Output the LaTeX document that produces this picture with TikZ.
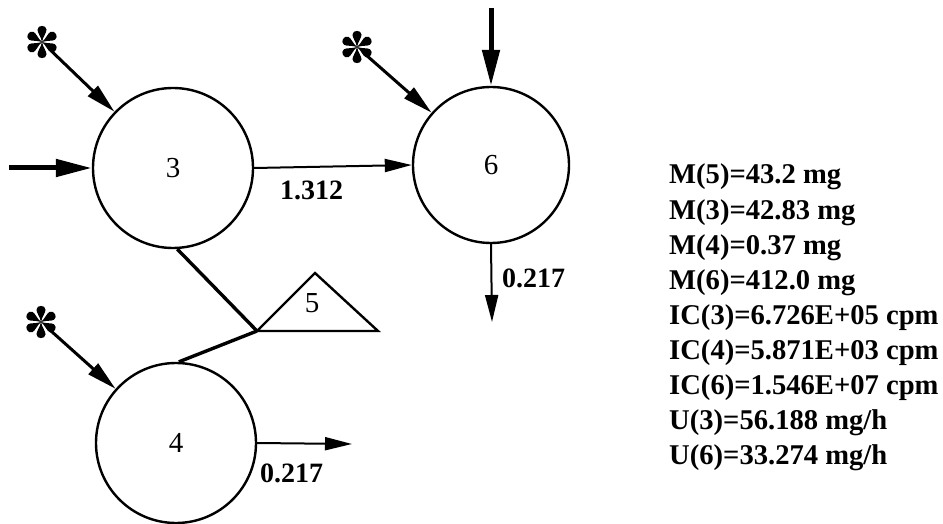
\documentclass[tikz,border=0pt]{standalone}
\usepackage{fontspec}
\setmainfont{Liberation Serif}
\usetikzlibrary{arrows.meta,calc}
\begin{document}
\begin{tikzpicture}[x=1pt,y=1pt,
  ring/.style={circle,draw,line width=2.4pt,minimum size=160pt,inner sep=0pt,font=\fontsize{29}{30}\selectfont},
  thickin/.style={line width=5pt,-{Triangle[length=36pt,width=17pt]}},
  thinout/.style={line width=2pt,-{Triangle[length=27pt,width=13pt]}},
  starline/.style={line width=3pt,-{Triangle[length=30pt,width=14pt]}},
  link/.style={line width=3.4pt},
  lbl/.style={font=\bfseries\fontsize{28}{30}\selectfont,inner sep=0pt,anchor=base west},
  res/.style={font=\bfseries\fontsize{28.6}{30}\selectfont,inner sep=0pt,anchor=base west},
  plain/.style={font=\fontsize{29}{30}\selectfont,inner sep=0pt},
  petals/.pic={\foreach \a in {90,30,-30,-90,-150,150}{\fill[rotate=\a] (0,0) .. controls (6,-1.2) and (9,-4.6) .. (12.5,-4.5) .. controls (17.3,-4.3) and (17.3,4.3) .. (12.5,4.5) .. controls (9,4.6) and (6,1.2) .. (0,0);}}
]
\path[use as bounding box] (0,0) rectangle (943,-524);
% compartments
\node[ring] (c3) at (173,-168) {3};
\node[ring,minimum size=156pt] (c6) at (491,-165) {6};
\node[ring] (c4) at (176,-443) {4};
% triangle 5
\coordinate (j) at (257,-331);
\coordinate (tA) at (315,-273);
\coordinate (tR) at (378,-331);
\draw[line width=2.4pt,line join=miter] (j) -- (tA) -- (tR) -- cycle;
\node[plain] (n5) at (312,-303) {5};
% links
\draw[link] (c3.-87) -- (j);
\draw[link] (j) -- (c4.88);
% stars
\coordinate (s3) at (42,-42);
\coordinate (s6) at (357,-47);
\coordinate (s4) at (41,-322);
\pic at (s3) {petals};
\pic at (s6) {petals};
\pic at (s4) {petals};
\draw[starline] ($(s3)!13pt!(c3)$) -- (c3);
\draw[starline] ($(s6)!13pt!(c6)$) -- (c6);
\draw[starline] ($(s4)!13pt!(c4)$) -- (c4);
% inputs
\coordinate (i3) at (9,-168);
\coordinate (i6) at (491,-8);
\draw[thickin] (i3) -- (c3.west);
\draw[thickin] (i6) -- (c6.north);
% flows
\draw[thinout] (c3.east) -- (c6.west);
\coordinate (o6) at (492,-322);
\coordinate (o4) at (352,-444);
\draw[thinout] (c6.south) -- (o6);
\draw[thinout] (c4.east) -- (o4);
\node[lbl] (l36) at (280,-200) {1.312};
\node[lbl] (l6) at (502,-287) {0.217};
\node[lbl] (l4) at (260,-482) {0.217};
% results
\foreach \t [count=\i] in {M(5)=43.2 mg,M(3)=42.83 mg,M(4)=0.37 mg,M(6)=412.0 mg,IC(3)=6.726E+05 cpm,IC(4)=5.871E+03 cpm,IC(6)=1.546E+07 cpm,U(3)=56.188 mg/h,U(6)=33.274 mg/h}{
  \node[res] (r\i) at (669,{-184-35*(\i-1)}) {\t};
}
\end{tikzpicture}
\end{document}
